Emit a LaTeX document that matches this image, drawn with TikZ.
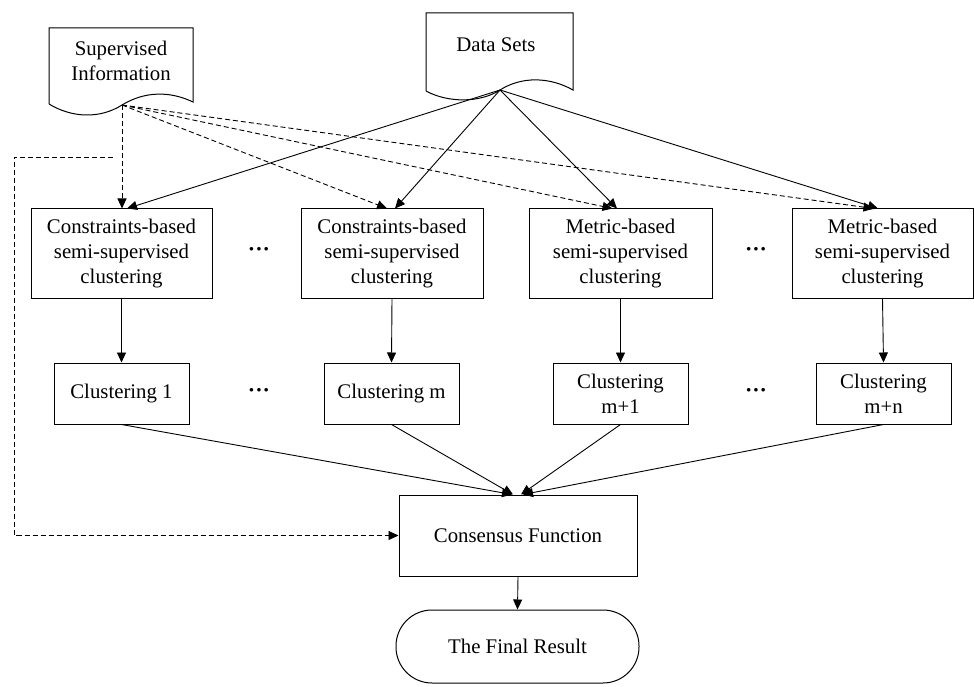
\documentclass[tikz,border=0pt]{standalone}
\usepackage{fontspec}
\setmainfont{Liberation Serif}
\usetikzlibrary{arrows.meta}
\begin{document}
\begin{tikzpicture}[x=1pt,y=-1pt,
  every node/.style={font=\fontsize{20.8}{25}\selectfont, align=center, inner sep=0pt},
  box/.style={draw, line width=1pt, rectangle},
  bigbox/.style={box, minimum width=182pt, minimum height=89pt},
  clbox/.style={box, minimum width=135pt, minimum height=61pt},
  arr/.style={line width=0.9pt, -{Triangle[length=10pt,width=9pt]}},
  darr/.style={arr, dash pattern=on 5pt off 3pt},
  dotsn/.style={font=\fontsize{22}{25}\selectfont\bfseries}
]
\useasboundingbox (0,0) rectangle (974,687);

% document shapes
\draw[line width=1pt] (49,104) -- (49,28) -- (193,28) -- (193,102)
  .. controls (170,91) and (145,91) .. (122,105)
  .. controls (100,119) and (72,118) .. (49,104);
\node (si) at (121,61) {Supervised\\Information};
\coordinate (si-o) at (122,105);

\draw[line width=1pt] (426,91) -- (426,13) -- (573,13) -- (573,90)
  .. controls (550,77) and (522,76) .. (500,90)
  .. controls (480,103) and (448,103) .. (426,91);
\node (ds) at (496,45) {Data Sets};
\coordinate (ds-o) at (500,90);

% row 1
\node[bigbox, minimum width=181pt] (b1) at (121.5,253.5) {Constraints-based\\semi-supervised\\clustering};
\node[bigbox] (b2) at (392,253.5) {Constraints-based\\semi-supervised\\clustering};
\node[bigbox, minimum width=183pt] (b3) at (620.5,253.5) {Metric-based\\semi-supervised\\clustering};
\node[bigbox, minimum width=181pt] (b4) at (882.5,253.5) {Metric-based\\semi-supervised\\clustering};
\node[dotsn] (d1) at (259,252) {···};
\node[dotsn] (d2) at (756,252) {···};

% row 2
\node[clbox] (c1) at (121.5,393.5) {Clustering 1};
\node[clbox] (c2) at (391.5,393.5) {Clustering m};
\node[clbox] (c3) at (620.5,393.5) {Clustering\\m+1};
\node[clbox] (c4) at (883.5,393.5) {Clustering\\m+n};
\node[dotsn] (d3) at (259,393) {···};
\node[dotsn] (d4) at (756,393) {···};

% consensus and result
\node[box, minimum width=238pt, minimum height=81pt] (cons) at (518,535.5) {Consensus Function};
\node[draw, line width=1pt, rounded corners=36pt, minimum width=243pt, minimum height=73pt] (res) at (517.5,646.5) {The Final Result};

% data set arrows
\draw[arr] (ds-o) -- ([xshift=5.5pt]b1.north);
\draw[arr] (ds-o) -- ([xshift=3pt]b2.north);
\draw[arr] (ds-o) -- ([xshift=-3.5pt]b3.north);
\draw[arr] (ds-o) -- ([xshift=-4.5pt]b4.north);

% supervised dashed arrows
\draw[darr] (si-o) -- ([xshift=0.5pt]b1.north);
\draw[darr] (si-o) -- ([xshift=-5pt]b2.north);
\draw[darr] (si-o) -- ([xshift=-8pt]b3.north);
\draw[darr] (si-o) -- ([xshift=-9pt]b4.north);

% row1 to row2
\draw[arr] (b1.south) -- (c1.north);
\draw[arr] (b2.south) -- (c2.north);
\draw[arr] (b3.south) -- (c3.north);
\draw[arr] (b4.south) -- (c4.north);

% row2 to consensus
\draw[arr] (c1.south) -- ([xshift=-6pt]cons.north);
\draw[arr] (c2.south) -- ([xshift=-5pt]cons.north);
\draw[arr] (c3.south) -- ([xshift=3pt]cons.north);
\draw[arr] (c4.south) -- ([xshift=5pt]cons.north);

\draw[arr] (cons.south) -- (res.north);

% feedback dashed line
\coordinate (fb) at (113,157);
\coordinate (fbc) at (14,157);
\draw[darr] (fb) -- (fbc) |- (cons.west);
\end{tikzpicture}
\end{document}
